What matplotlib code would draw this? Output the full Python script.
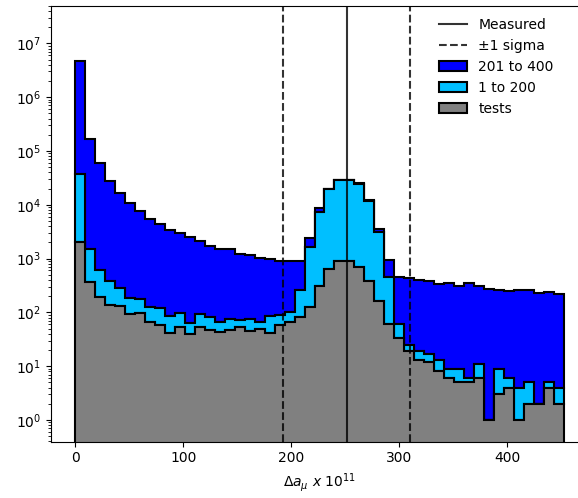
import numpy as np
import matplotlib
matplotlib.use("Agg")
import matplotlib.pyplot as plt
from matplotlib.lines import Line2D
from matplotlib.patches import Patch

# delta a_mu (x 1e11) binning
edges = np.linspace(0, 452, 50)

measured = 251
sigma = 59

# counts per bin for each group
tests = [2060, 359, 193, 135, 133, 95, 98, 65, 58, 41, 54, 39, 54, 47, 44, 47, 53, 46, 50, 42,
         58, 65, 83, 124, 309, 632, 900, 900, 689, 388, 165, 62, 33, 19, 13, 12, 8, 6, 5, 5,
         6, 1, 3, 4, 1, 2, 2, 4, 2]
low = [34440, 1171, 412, 253, 147, 88, 79, 63, 64, 45, 42, 25, 38, 36, 23, 27, 19, 29, 17, 45,
       31, 35, 178, 1536, 7121, 18768, 27900, 27900, 24111, 11212, 2995, 398, 29, 6, 6, 5, 5, 3, 4, 1,
       5, 0, 6, 2, 3, 3, 0, 1, 2]
high = [4713500, 165270, 59095, 27612, 16270, 10607, 7483, 5307, 4328, 3264, 2891, 2486, 2056, 1615, 1439, 1419, 1128, 1106, 971, 886,
        824, 813, 652, 720, 1170, 500, 400, 400, 400, 400, 430, 480, 398, 405, 381, 366, 324, 338, 300, 341,
        298, 267, 252, 247, 262, 261, 230, 237, 214]

labels = ['tests', '1 to 200', '201 to 400']
colors = ['gray', 'deepskyblue', 'blue']

centers = 0.5 * (edges[:-1] + edges[1:])

fig = plt.figure(figsize=(5.78, 4.98), dpi=100)
ax = fig.add_axes([51 / 578, 1 - 441.7 / 498, 537 / 578, 436 / 498])

ax.hist([centers] * 3, bins=edges, weights=[tests, low, high], stacked=True,
        histtype='stepfilled', color=colors, edgecolor='k', linewidth=1.5, log=True)

ax.axvline(measured, color='k', alpha=0.8, lw=1.5)
ax.axvline(measured - sigma, color='k', ls='--', alpha=0.8, lw=1.5)
ax.axvline(measured + sigma, color='k', ls='--', alpha=0.8, lw=1.5)

ax.set_ylim(0.395, 5.0e7)
ax.set_xlim(-22.6, 474.6)
ax.set_xlabel(r'$\Delta a_\mu\ x\ 10^{11}$')

handles = [Line2D([], [], color='k', alpha=0.8, lw=1.5),
           Line2D([], [], color='k', ls='--', alpha=0.8, lw=1.5),
           Patch(facecolor='blue', edgecolor='k', lw=1.5),
           Patch(facecolor='deepskyblue', edgecolor='k', lw=1.5),
           Patch(facecolor='gray', edgecolor='k', lw=1.5)]
ax.legend(handles, ['Measured', '\u00b11 sigma', '201 to 400', '1 to 200', 'tests'],
          loc='upper left', bbox_to_anchor=(0.70, 1.0), frameon=False)

fig.savefig('out.png', dpi=100)
